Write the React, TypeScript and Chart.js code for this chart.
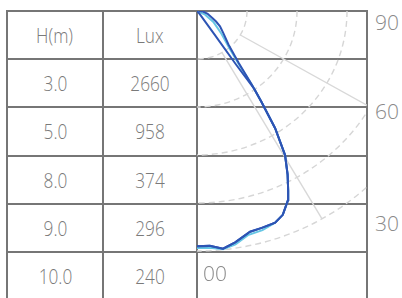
import React, { useEffect, useRef } from "react";
import { Chart, registerables } from "chart.js";

Chart.register(...registerables);

const HEADERS = ["H(m)", "Lux"];
const HEIGHTS = ["3.0", "5.0", "8.0", "9.0", "10.0"];
const LUX = ["2660", "958", "374", "296", "240"];
const ANGLE_LABELS = ["90", "60", "30", "00"];

const RING_VALUES = [50, 100, 150, 200, 250];
const SPOKE_ANGLES = [30, 60];

// outer dark curve (angle from nadir in degrees, intensity)
const OUTER_ANGLES = [0, 3, 6, 9, 13, 16, 19.5, 22, 24.8, 26, 28, 30.4, 32.6, 34.2, 35.5, 37.7, 42, 48.8, 52, 55.2, 60, 64.3, 75, 85, 90];
const OUTER_CD = [245, 245, 249, 244, 236, 235, 234, 229, 217, 208, 193, 174, 145, 115, 95, 68, 47, 35, 31, 28, 22, 17, 11, 6, 2];

// inner dark curve
const INNER_ANGLES = [0, 3, 6, 9, 13, 16, 19.5, 22, 24.8, 26, 28, 30.4, 32.6, 34.2, 35.2, 35.0, 35.5, 40, 90];
const INNER_CD = [245, 245, 249, 244, 236, 235, 234, 229, 217, 208, 193, 174, 145, 115, 100, 68, 30, 4, 0];

// light curve
const LIGHT_ANGLES = [0, 3, 6, 9, 12.3, 16, 19.5, 22, 24.8, 26, 28, 30.4, 32.6, 34.2, 35.5, 37, 40, 46, 55, 65, 90];
const LIGHT_CD = [247, 247, 249.5, 246, 239, 237.5, 234, 229, 217, 208, 193, 174, 145, 115, 95, 70, 50, 34, 20, 9, 0];

const ROW_Y = [11, 59.2, 107.4, 155.6, 203.8, 252, 300.2];
const COL_X = [7, 103, 197, 367];

const toXY = (angles: number[], vals: number[]) =>
  angles.map((a, i) => ({
    x: vals[i] * Math.sin((a * Math.PI) / 180),
    y: -vals[i] * Math.cos((a * Math.PI) / 180),
  }));

const LINE = "#767676";
const TEXT = "#7a7a7a";

export default function App() {
  const ref = useRef<HTMLCanvasElement>(null);

  useEffect(() => {
    document.body.style.margin = "0";
    const gridPlugin = {
      id: "polarGrid",
      beforeDatasetsDraw(chart: any) {
        const { ctx, chartArea } = chart;
        const xs = chart.scales.x;
        const ys = chart.scales.y;
        ctx.save();
        ctx.beginPath();
        ctx.rect(chartArea.left, chartArea.top, chartArea.width, chartArea.height);
        ctx.clip();
        const cx = xs.getPixelForValue(0);
        const cy = ys.getPixelForValue(0);
        ctx.strokeStyle = "#d6d6d6";
        ctx.lineWidth = 1.4;
        ctx.setLineDash([6, 4]);
        RING_VALUES.forEach((r) => {
          const rx = xs.getPixelForValue(r) - cx;
          const ry = ys.getPixelForValue(-r) - cy;
          ctx.beginPath();
          ctx.ellipse(cx, cy, rx, ry, 0, 0, Math.PI / 2);
          ctx.stroke();
        });
        ctx.setLineDash([]);
        ctx.strokeStyle = "#d8d8d8";
        const r0 = RING_VALUES[0];
        const r1 = RING_VALUES[RING_VALUES.length - 1];
        SPOKE_ANGLES.forEach((a) => {
          const s = Math.sin((a * Math.PI) / 180);
          const c = Math.cos((a * Math.PI) / 180);
          ctx.beginPath();
          ctx.moveTo(xs.getPixelForValue(r0 * s), ys.getPixelForValue(-r0 * c));
          ctx.lineTo(xs.getPixelForValue(r1 * s), ys.getPixelForValue(-r1 * c));
          ctx.stroke();
        });
        ctx.restore();
      },
    };

    const chart = new Chart(ref.current!, {
      type: "scatter",
      data: {
        datasets: [
          {
            data: toXY(OUTER_ANGLES, OUTER_CD),
            showLine: true,
            borderColor: "#2d54b4",
            borderWidth: 2,
            pointRadius: 0,
            tension: 0,
          },
          {
            data: toXY(INNER_ANGLES, INNER_CD),
            showLine: true,
            borderColor: "#2d54b4",
            borderWidth: 2,
            pointRadius: 0,
            tension: 0,
          },
          {
            data: toXY(LIGHT_ANGLES, LIGHT_CD),
            showLine: true,
            borderColor: "#66c6e4",
            borderWidth: 2,
            pointRadius: 0,
            tension: 0,
          },
        ],
      },
      options: {
        responsive: false,
        animation: false,
        devicePixelRatio: 1,
        layout: { padding: 0 },
        plugins: { legend: { display: false }, tooltip: { enabled: false } },
        scales: {
          x: { type: "linear", min: 0, max: 170, display: false },
          y: { type: "linear", min: -298.96, max: 0, display: false },
        },
      },
      plugins: [gridPlugin],
    });
    return () => chart.destroy();
  }, []);

  const cellText = (txt: string, col: number, row: number) => (
    <div
      key={`t${col}-${row}`}
      style={{
        position: "absolute",
        left: COL_X[col],
        width: COL_X[col + 1] - COL_X[col],
        top: ROW_Y[row],
        height: ROW_Y[row + 1] - ROW_Y[row],
        display: "flex",
        alignItems: "center",
        justifyContent: "center",
        color: TEXT,
        fontFamily: "'Open Sans', sans-serif",
        fontWeight: 300,
        fontSize: 21,
      }}
    >
      <span style={{ display: "inline-block", transform: "scaleX(0.82)" }}>{txt}</span>
    </div>
  );

  const labelStyle = (left: number, cy: number): React.CSSProperties => ({
    position: "absolute",
    left,
    top: cy - 15,
    height: 30,
    lineHeight: "30px",
    color: "#8a8a8a",
    fontFamily: "'Open Sans', sans-serif",
    fontWeight: 300,
    fontSize: 21,
    whiteSpace: "nowrap",
  });

  return (
    <div
      style={{
        position: "fixed",
        left: 0,
        top: 0,
        width: 402,
        height: 298,
        overflow: "hidden",
        background: "#fff",
      }}
    >
      {ROW_Y.map((y, i) => (
        <div
          key={`h${i}`}
          style={{ position: "absolute", left: COL_X[0] - 1, width: COL_X[3] - COL_X[0] + 2, top: y - 1, height: 2, background: LINE }}
        />
      ))}
      {COL_X.map((x, i) => (
        <div
          key={`v${i}`}
          style={{ position: "absolute", left: x - 1, width: 2, top: ROW_Y[0] - 1, height: 300, background: LINE }}
        />
      ))}
      {HEADERS.map((h, c) => cellText(h, c, 0))}
      {HEIGHTS.map((h, r) => cellText(h, 0, r + 1))}
      {LUX.map((l, r) => cellText(l, 1, r + 1))}
      <canvas
        ref={ref}
        width={170}
        height={287}
        style={{ position: "absolute", left: 197, top: 11, width: 170, height: 287 }}
      />
      <div style={labelStyle(375, 21.5)}>{ANGLE_LABELS[0]}</div>
      <div style={labelStyle(375, 110.5)}>{ANGLE_LABELS[1]}</div>
      <div style={labelStyle(375, 222.5)}>{ANGLE_LABELS[2]}</div>
      <div style={labelStyle(203, 273)}>{ANGLE_LABELS[3]}</div>
    </div>
  );
}
